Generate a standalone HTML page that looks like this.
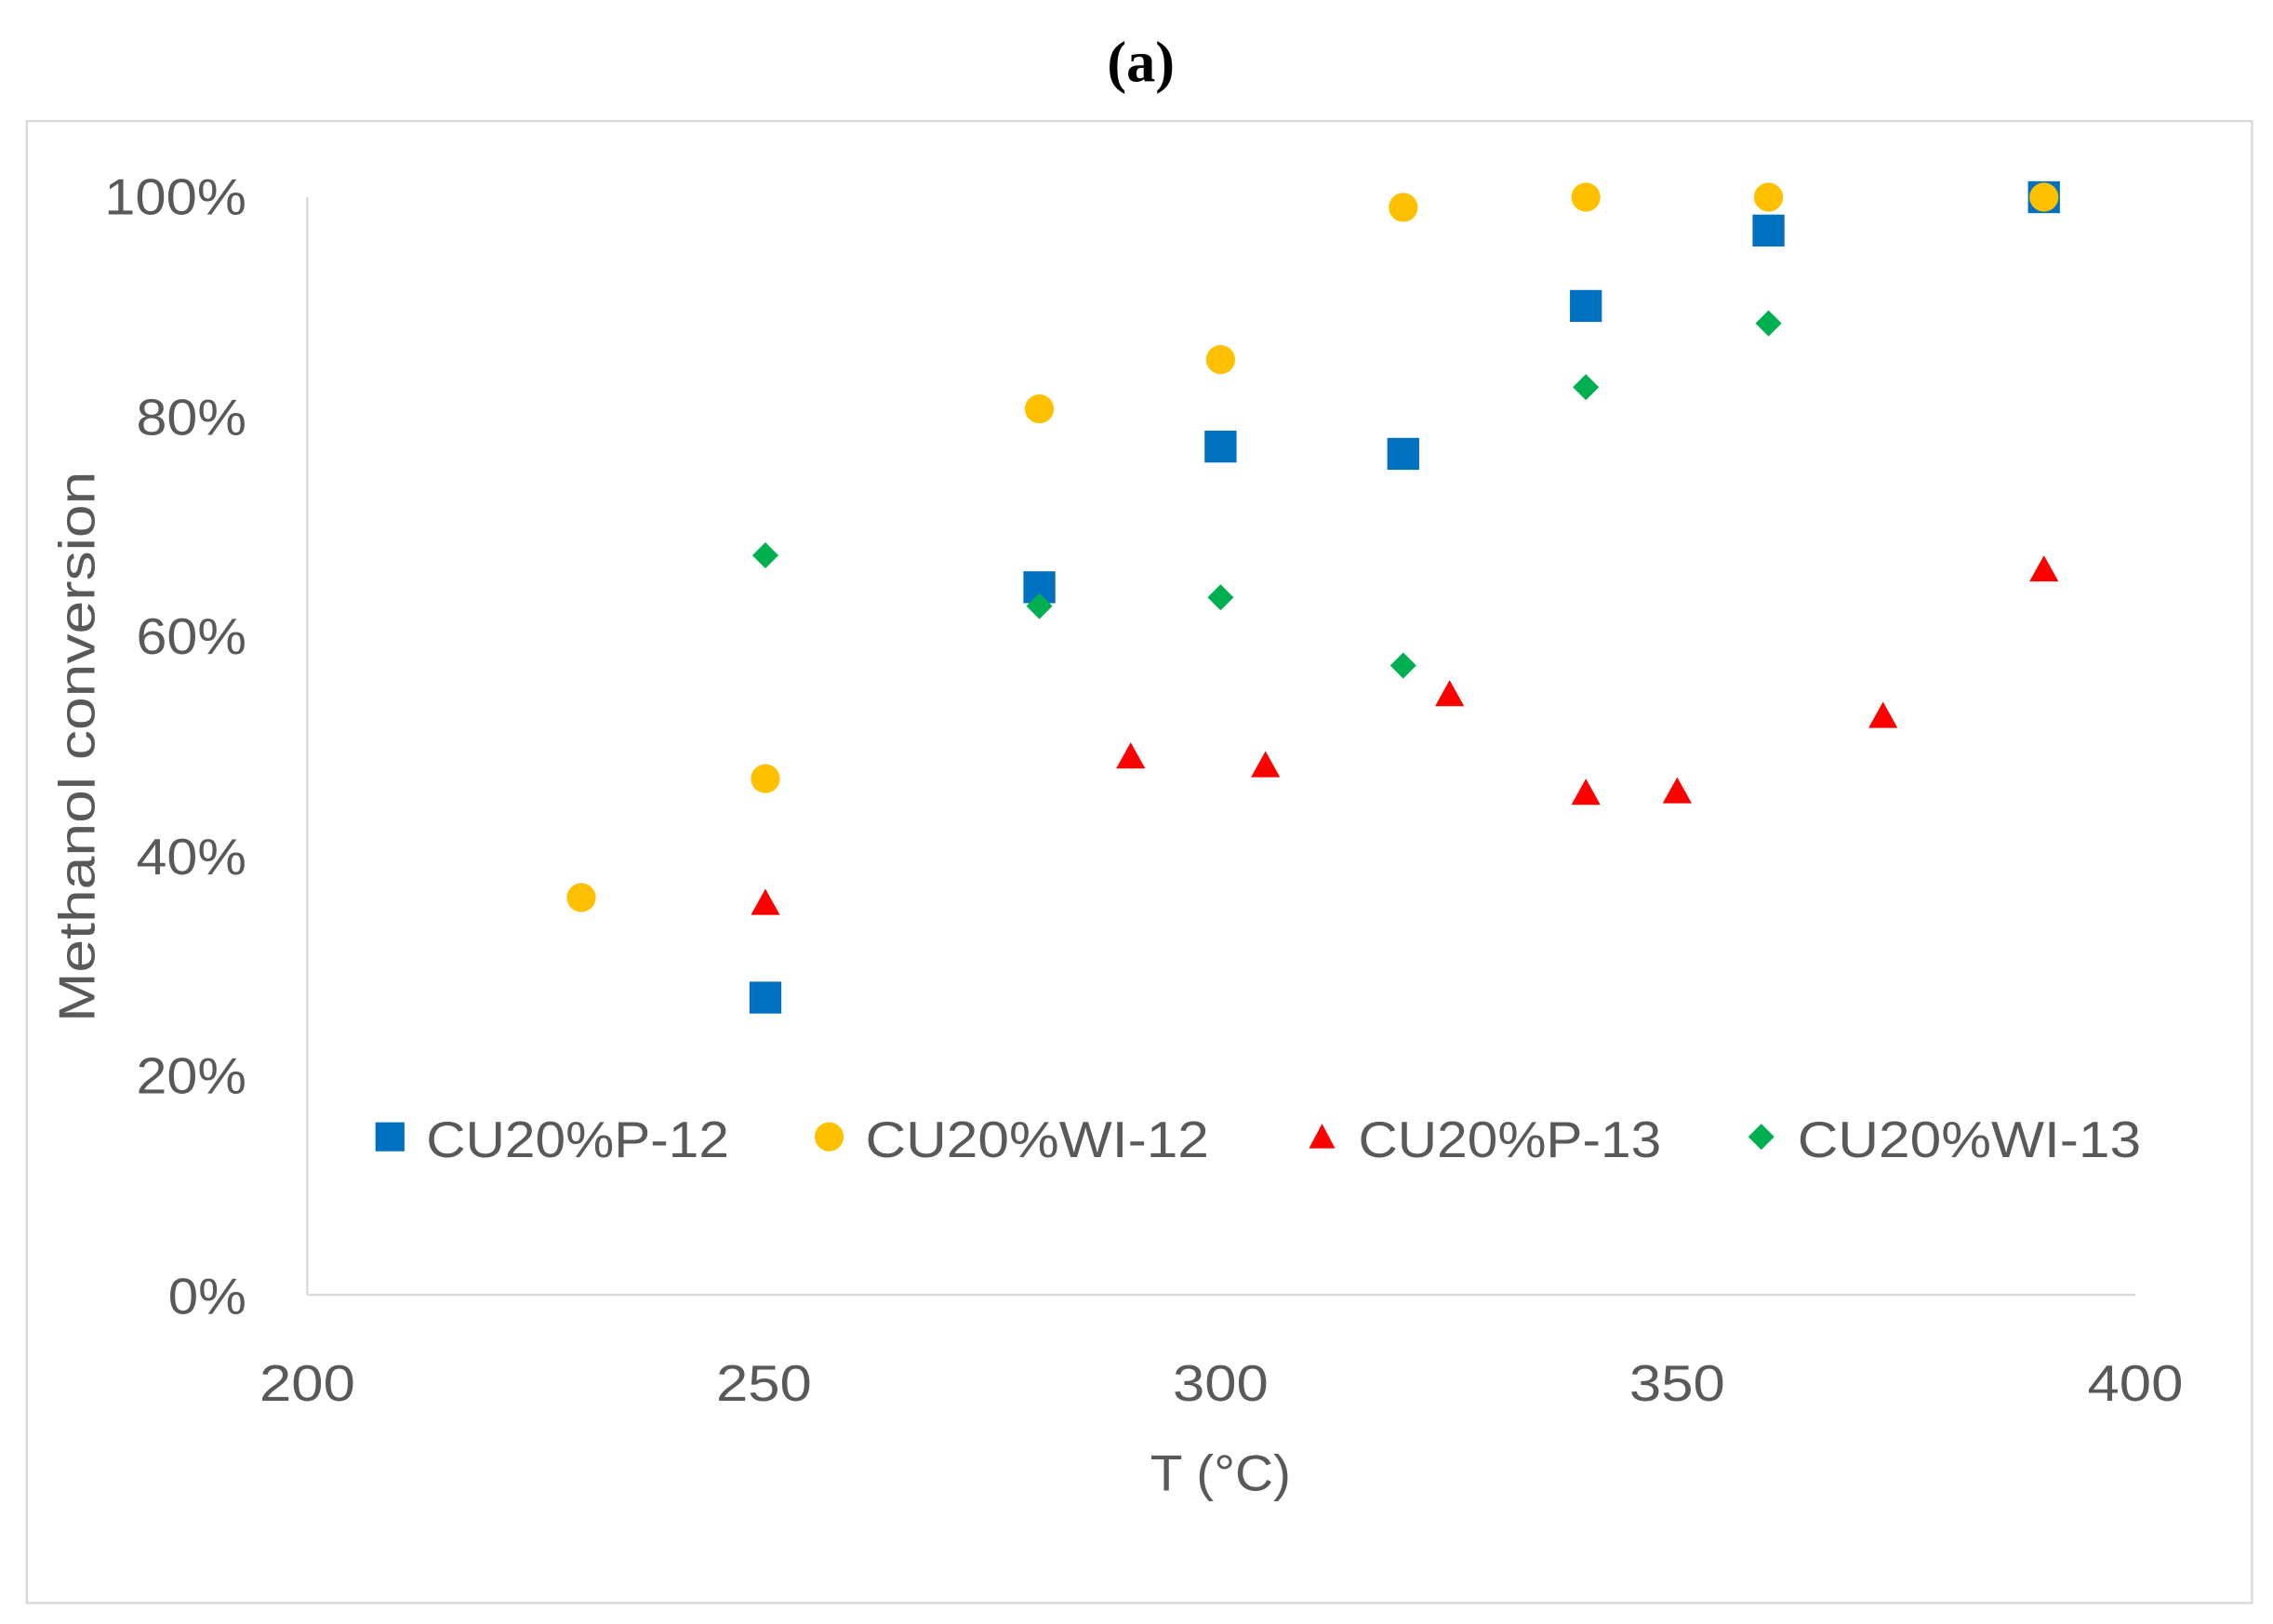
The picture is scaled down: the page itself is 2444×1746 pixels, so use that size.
<!DOCTYPE html>
<html><head><meta charset="utf-8"><style>html,body{margin:0;padding:0;background:#fff}svg{display:block}</style></head><body>
<svg width="2444" height="1746" viewBox="0 0 1568 1120" preserveAspectRatio="none" xmlns="http://www.w3.org/2000/svg">
<rect width="1568" height="1120" fill="#fff"/>
<text x="787" y="56" text-anchor="middle" font-family="Liberation Serif, serif" font-size="40" font-weight="bold" fill="#000">(a)</text>
<rect x="18.5" y="83.5" width="1535" height="1022" fill="none" stroke="#d9d9d9" stroke-width="1.5"/>
<line x1="212" y1="136" x2="212" y2="893" stroke="#d9d9d9" stroke-width="1.5"/>
<line x1="212" y1="893" x2="1473" y2="893" stroke="#d9d9d9" stroke-width="1.5"/>
<g font-family="Liberation Sans, sans-serif" font-size="35" fill="#595959" text-anchor="end" lengthAdjust="spacingAndGlyphs">
<text x="170" y="148" textLength="98" lengthAdjust="spacingAndGlyphs">100%</text>
<text x="170" y="300" textLength="76" lengthAdjust="spacingAndGlyphs">80%</text>
<text x="170" y="451" textLength="76" lengthAdjust="spacingAndGlyphs">60%</text>
<text x="170" y="603" textLength="76" lengthAdjust="spacingAndGlyphs">40%</text>
<text x="170" y="754" textLength="76" lengthAdjust="spacingAndGlyphs">20%</text>
<text x="170" y="906" textLength="54" lengthAdjust="spacingAndGlyphs">0%</text>
</g>
<g font-family="Liberation Sans, sans-serif" font-size="35" fill="#595959" text-anchor="middle">
<text x="212" y="966" textLength="66" lengthAdjust="spacingAndGlyphs">200</text>
<text x="527" y="966" textLength="66" lengthAdjust="spacingAndGlyphs">250</text>
<text x="842" y="966" textLength="66" lengthAdjust="spacingAndGlyphs">300</text>
<text x="1157" y="966" textLength="66" lengthAdjust="spacingAndGlyphs">350</text>
<text x="1473" y="966" textLength="66" lengthAdjust="spacingAndGlyphs">400</text>
<text x="842" y="1028" textLength="97" lengthAdjust="spacingAndGlyphs">T (°C)</text>
<text transform="translate(65,515) rotate(-90)" textLength="380" lengthAdjust="spacingAndGlyphs">Methanol conversion</text>
</g>
<g fill="#0070c0">
<rect x="517" y="677" width="22" height="22"/><rect x="706" y="394" width="22" height="22"/><rect x="831" y="297" width="22" height="22"/><rect x="957" y="302" width="22" height="22"/><rect x="1083" y="200" width="22" height="22"/><rect x="1209" y="148" width="22" height="22"/><rect x="1399" y="125" width="22" height="22"/>
<rect x="259" y="774" width="20" height="20"/>
</g>
<g fill="#ffc000">
<circle cx="401" cy="619" r="10"/><circle cx="528" cy="537" r="10"/><circle cx="717" cy="282" r="10"/><circle cx="842" cy="248" r="10"/><circle cx="968" cy="143" r="10"/><circle cx="1094" cy="136" r="10"/><circle cx="1220" cy="136" r="10"/><circle cx="1410" cy="136" r="10"/>
<circle cx="572" cy="784" r="10"/>
</g>
<g fill="#ff0000">
<path d="M528 613l10 18h-20z"/><path d="M780 512l10 18h-20z"/><path d="M873 518l10 18h-20z"/><path d="M1000 469l10 18h-20z"/><path d="M1094 537l10 18h-20z"/><path d="M1157 536l10 18h-20z"/><path d="M1299 484l10 18h-20z"/><path d="M1410 383l10 18h-20z"/>
<path d="M912 775l9 17h-18z"/>
</g>
<g fill="#00b050">
<path d="M528 374l9 9-9 9-9-9z"/><path d="M717 409l9 9-9 9-9-9z"/><path d="M842 403l9 9-9 9-9-9z"/><path d="M968 450l9 9-9 9-9-9z"/><path d="M1094 258l9 9-9 9-9-9z"/><path d="M1220 214l9 9-9 9-9-9z"/>
<path d="M1215 775l9 9-9 9-9-9z"/>
</g>
<g font-family="Liberation Sans, sans-serif" font-size="35" fill="#595959">
<text x="294" y="798" textLength="209" lengthAdjust="spacingAndGlyphs">CU20%P-12</text>
<text x="597" y="798" textLength="237" lengthAdjust="spacingAndGlyphs">CU20%WI-12</text>
<text x="937" y="798" textLength="209" lengthAdjust="spacingAndGlyphs">CU20%P-13</text>
<text x="1240" y="798" textLength="237" lengthAdjust="spacingAndGlyphs">CU20%WI-13</text>
</g>
</svg>
</body></html>
